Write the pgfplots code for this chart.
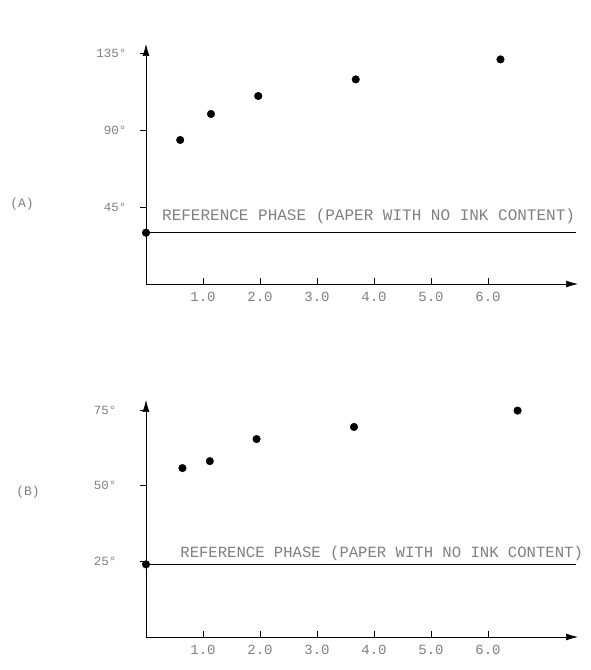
\documentclass[border=0pt]{standalone}
\usepackage{fontspec}
\setmonofont{Liberation Mono}
\usepackage{pgfplots}
\pgfplotsset{compat=1.18}
\usetikzlibrary{arrows.meta}
\definecolor{txt}{gray}{0.5}
\newcommand{\tf}[1]{\ttfamily\fontsize{#1}{#1}\selectfont}
\begin{document}
\begin{tikzpicture}[x=1pt,y=1pt]
\useasboundingbox (0,0) rectangle (591,670);
\pgfplotsset{
  common/.style={
    scale only axis, width=432pt,
    xmin=0, xmax=7.58,
    axis x line=bottom, axis y line=left,
    axis line style={black, line width=0.7pt, -{Latex[length=12pt,width=7pt]}},
    xtick={1,2,3,4,5,6}, xticklabels={1.0,2.0,3.0,4.0,5.0,6.0},
    xtick align=inside, ytick align=outside, major tick length=6pt,
    ytick pos=left, xtick pos=bottom,
    every tick/.style={black, line width=0.7pt},
    x tick label style={font=\tf{14}, text=txt, yshift=-5pt},
    y tick label style={font=\tf{12.5}, text=txt},
    clip=false,
  },
  pts/.style={only marks, mark=*, mark size=3.8pt, black},
}
\begin{scope}[shift={(146,386)}]
\begin{axis}[common, at={(0,0)}, anchor=origin,
  height=240pt, ymin=0, ymax=140.3,
  ytick={45,90,135}, yticklabels={45°,90°,135°},
  y tick label style={xshift=-10pt}]
\addplot[black, line width=0.6pt] coordinates {(0,30) (7.55,30)};
\addplot[pts] coordinates {(0,30)};
\addplot[pts] coordinates {(0.60,84.2) (1.14,99.4) (1.97,109.9) (3.68,119.6) (6.22,131.3)};
\node[anchor=west, font=\tf{16}, text=txt, inner sep=0pt] at (axis cs:0.28,39.5) {REFERENCE PHASE (PAPER WITH NO INK CONTENT)};
\end{axis}
\end{scope}
\begin{scope}[shift={(146,33)}]
\begin{axis}[common, at={(0,0)}, anchor=origin,
  height=237pt, ymin=0, ymax=78.3,
  ytick={25,50,75}, yticklabels={25°,50°,75°},
  y tick label style={xshift=-20pt}]
\addplot[black, line width=0.6pt] coordinates {(0,24) (7.55,24)};
\addplot[pts] coordinates {(0,24)};
\addplot[pts] coordinates {(0.64,55.8) (1.12,58.1) (1.94,65.4) (3.65,69.4) (6.52,74.8)};
\node[anchor=west, font=\tf{15.6}, text=txt, inner sep=0pt] at (axis cs:0.6,27.7) {REFERENCE PHASE (PAPER WITH NO INK CONTENT)};
\end{axis}
\end{scope}
\node[font=\tf{13}, text=txt] at (22,466) {(A)};
\node[font=\tf{13}, text=txt] at (28,178) {(B)};
\end{tikzpicture}
\end{document}
